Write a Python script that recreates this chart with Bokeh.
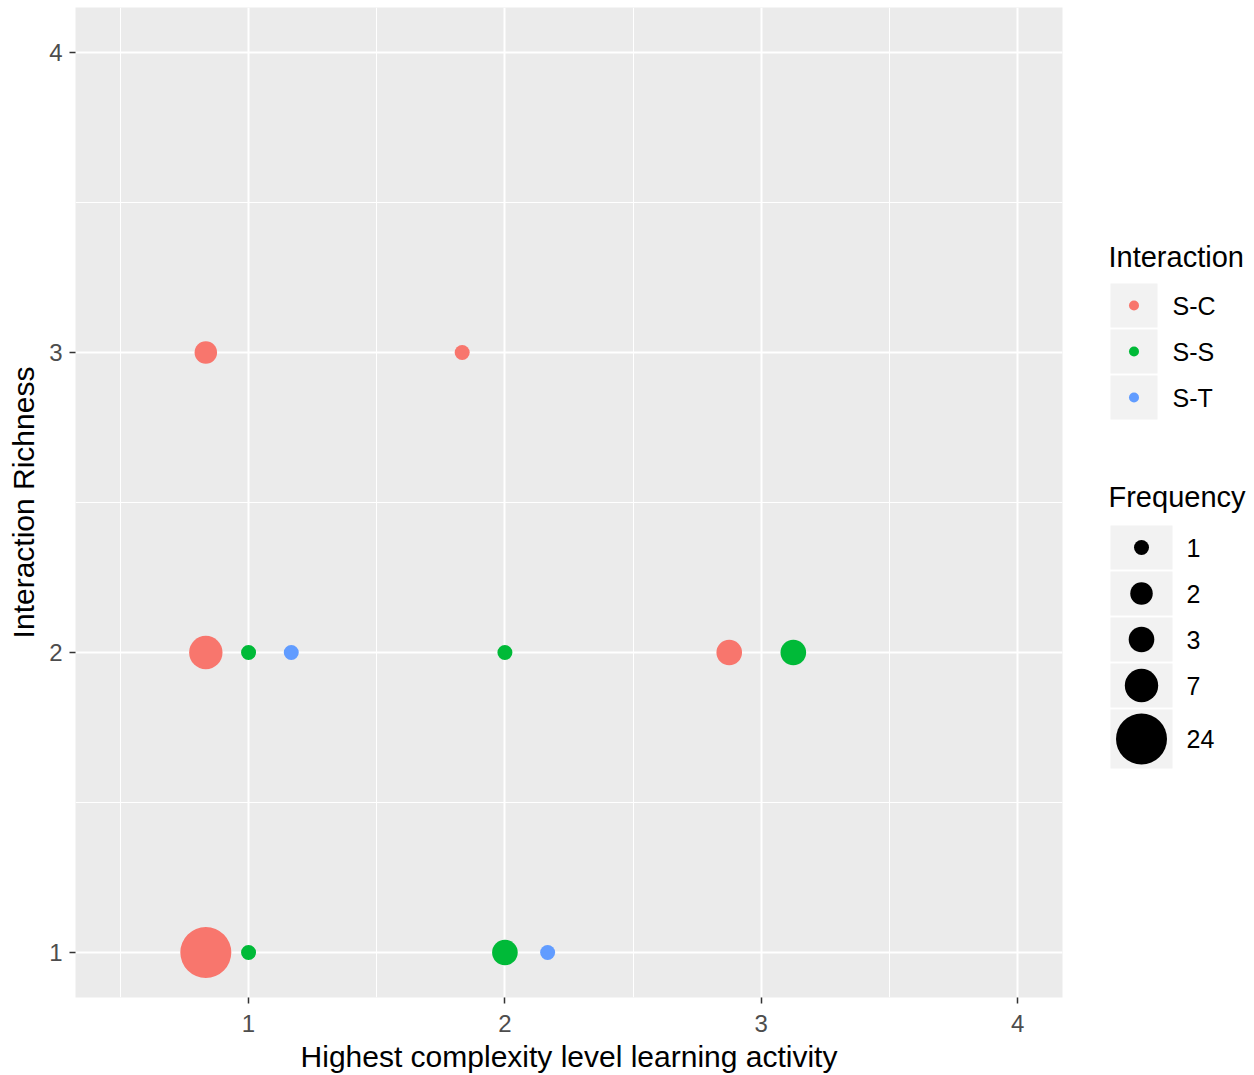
from bokeh.plotting import figure
from bokeh.models import Range1d, FixedTicker, ColumnDataSource
from bokeh.layouts import row
from bokeh.core.properties import value
from bokeh.embed import file_html
from bokeh.resources import INLINE
import math

# ---------------- data ----------------
interaction = ["S-C", "S-S", "S-S", "S-T", "S-C", "S-S", "S-T", "S-S", "S-C", "S-S", "S-C", "S-C"]
activity    = [1, 1, 2, 2, 1, 1, 1, 2, 3, 3, 1, 2]
richness    = [1, 1, 1, 1, 2, 2, 2, 2, 2, 2, 3, 3]
frequency   = [24, 1, 3, 1, 7, 1, 1, 1, 3, 3, 2, 1]

groups = ["S-C", "S-S", "S-T"]
group_colors = ["#F8766D", "#00BA38", "#619CFF"]
freq_breaks = [1, 2, 3, 7, 24]
x_ticks = [1, 2, 3, 4]
y_ticks = [1, 2, 3, 4]

FONT = "Liberation Sans"

# ---------------- scales ----------------
DODGE_W = 0.5
def dodge(xs, gs):
    out = []
    for x, g in zip(xs, gs):
        present = sorted(set(gg for xx, gg in zip(xs, gs) if xx == x), key=groups.index)
        n = len(present)
        i = present.index(g)
        out.append(x + (i - (n - 1) / 2) * DODGE_W / n)
    return out

fmin, fmax = min(frequency), max(frequency)
def size_px(f):
    s = 1 + 5 * math.sqrt((f - fmin) / (fmax - fmin))
    return 7.8 + 7.2 * s

color_of = dict(zip(groups, group_colors))
src = ColumnDataSource(dict(
    x=dodge(activity, interaction),
    y=richness,
    size=[size_px(f) for f in frequency],
    color=[color_of[g] for g in interaction],
))

# ---------------- main plot ----------------
TOP, FRAME_H, BOTTOM = 7, 990, 78
H = TOP + FRAME_H + BOTTOM
W = 1078
p = figure(width=W, height=H, x_range=Range1d(0.325, 4.175), y_range=Range1d(0.85, 4.15),
           output_backend="svg", toolbar_location=None,
           min_border_left=75, min_border_right=16, min_border_top=TOP, min_border_bottom=BOTTOM)
p.background_fill_color = "#EBEBEB"
p.border_fill_color = "white"
p.outline_line_color = None

p.xaxis.ticker = FixedTicker(ticks=x_ticks, minor_ticks=[0.5, 1.5, 2.5, 3.5])
p.yaxis.ticker = FixedTicker(ticks=y_ticks, minor_ticks=[0.5, 1.5, 2.5, 3.5])
for g in (p.xgrid, p.ygrid):
    g.grid_line_color = "white"
    g.grid_line_width = 2
    g.minor_grid_line_color = "white"
    g.minor_grid_line_width = 1

for ax in (p.xaxis, p.yaxis):
    ax.axis_line_color = None
    ax.minor_tick_line_color = None
    ax.major_tick_line_color = "#333333"
    ax.major_tick_line_width = 1.5
    ax.major_tick_in = 0
    ax.major_tick_out = 6
    ax.major_label_text_font = FONT
    ax.major_label_text_font_size = "24px"
    ax.major_label_text_color = "#4D4D4D"
    ax.axis_label_text_font = FONT
    ax.axis_label_text_font_size = "30px"
    ax.axis_label_text_font_style = "normal"
    ax.axis_label_text_color = "black"
p.xaxis.major_label_standoff = 11
p.yaxis.major_label_standoff = 7
p.xaxis.axis_label_standoff = 5
p.yaxis.axis_label_standoff = 6

p.xaxis.axis_label = "Highest complexity level learning activity"
p.yaxis.axis_label = "Interaction Richness"

p.scatter("x", "y", size="size", color="color", source=src, line_color=None)

# ---------------- legend panel (coordinates in page pixels) ----------------
LW = 1246 - W
lf = figure(width=LW, height=H, x_range=Range1d(W, W + LW), y_range=Range1d(TOP + FRAME_H, TOP),
            output_backend="svg", toolbar_location=None,
            min_border_left=0, min_border_right=0, min_border_top=TOP, min_border_bottom=BOTTOM,
            x_axis_type=None, y_axis_type=None)
lf.grid.visible = False
lf.outline_line_color = None
lf.background_fill_color = "white"
lf.border_fill_color = "white"

KEY_FILL = "#F2F2F2"
GAP = 2
KEY_H = 44
TITLE_X = 1108
KEY_L = 1110

def legend_title(text, y):
    lf.text(x=[TITLE_X], y=[y], text=[text], text_font=value(FONT),
            text_font_size="29px", text_baseline="middle", text_align="left", text_color="black")

# Interaction
legend_title("Interaction", 256)
top = 283
ik_w = 47
ik_x = KEY_L + ik_w / 2
cy = []
for g in groups:
    cy.append(top + KEY_H / 2)
    top += KEY_H + GAP
lf.rect(x=[ik_x] * len(groups), y=cy, width=ik_w, height=KEY_H, fill_color=KEY_FILL, line_color=None)
lf.scatter(x=[ik_x] * len(groups), y=cy, size=10, color=group_colors, line_color=None)
lf.text(x=[ik_x + ik_w / 2 + 15] * len(groups), y=cy, text=groups, text_font=value(FONT),
        text_font_size="25px", text_baseline="middle", text_align="left", text_color="black")

# Frequency
legend_title("Frequency", 496)
top = 525
fk_w = 62
fk_x = KEY_L + fk_w / 2
cy, hs = [], []
for f in freq_breaks:
    h = max(KEY_H, size_px(f) + 8)
    cy.append(top + h / 2)
    hs.append(h)
    top += h + GAP
lf.rect(x=[fk_x] * len(freq_breaks), y=cy, width=fk_w, height=hs, fill_color=KEY_FILL, line_color=None)
lf.scatter(x=[fk_x] * len(freq_breaks), y=cy, size=[size_px(f) for f in freq_breaks],
           color="black", line_color=None)
lf.text(x=[fk_x + fk_w / 2 + 14] * len(freq_breaks), y=cy, text=[str(f) for f in freq_breaks],
        text_font=value(FONT), text_font_size="25px", text_baseline="middle",
        text_align="left", text_color="black")

layout = row(p, lf)
open("out.html", "w").write(file_html(layout, INLINE))
